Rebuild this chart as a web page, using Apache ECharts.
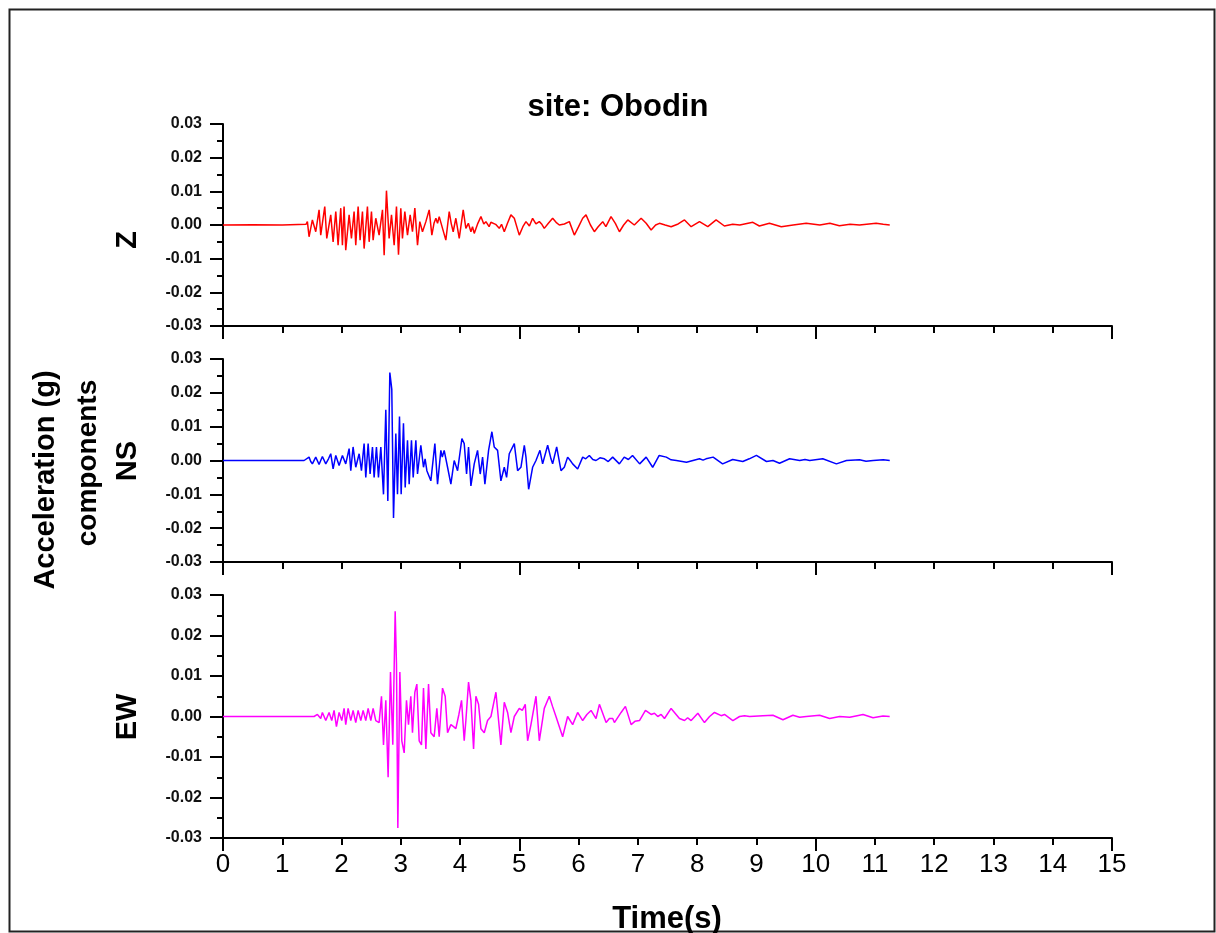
<!DOCTYPE html>
<html><head><meta charset="utf-8">
<script src="https://cdn.jsdelivr.net/npm/echarts@6/dist/echarts.min.js"></script>
<style>html,body{margin:0;padding:0;background:#fff}#c{width:1216px;height:933px}</style>
</head><body><div id="c"></div>
<script>
// ---- data: [time (s), acceleration (g)] ----
const zData = [
[0,0],[0.5,0.0001],[1.0,0],[1.40,0.0002],
[1.424,0.001],[1.452,-0.0035],[1.508,0.0015],[1.565,-0.002],[1.621,0.0045],[1.649,-0.003],[1.717,0.0055],[1.751,-0.004],[1.818,0.003],[1.858,-0.005],[1.903,0.004],[1.942,-0.006],[1.987,0.005],[2.015,-0.006],[2.043,0.0055],[2.071,-0.0075],[2.128,0.003],[2.167,-0.004],[2.212,0.004],[2.240,-0.006],[2.280,0.0055],[2.313,-0.0045],[2.353,0.004],[2.381,-0.007],[2.437,0.0055],[2.466,-0.005],[2.505,0.004],[2.533,-0.0045],[2.578,0.002],[2.634,-0.003],[2.691,0.0045],[2.719,-0.009],[2.758,0.0102],[2.803,-0.004],[2.843,0.003],[2.888,-0.006],[2.927,0.0055],[2.961,-0.0088],[3.000,0.005],[3.028,-0.004],[3.068,0.004],[3.113,-0.003],[3.158,0.003],[3.197,-0.002],[3.237,0.005],[3.282,-0.006],[3.321,0.001],[3.366,-0.002],[3.423,0.001],[3.479,0.0045],[3.524,-0.003],[3.56,0.0005],[3.592,0.002],[3.62,0.0005],[3.648,0.0025],[3.704,-0.001],[3.760,-0.0045],[3.817,0.004],[3.85,0.0005],[3.884,-0.002],[3.929,0.002],[3.986,-0.004],[4.053,0.0045],[4.098,-0.001],[4.14,0.0005],[4.183,-0.002],[4.21,-0.0005],[4.239,-0.0025],[4.30,0.0005],[4.352,0.0025],[4.40,0.0003],[4.436,0.001],[4.49,-0.0005],[4.52,0.0008],[4.549,0.001],[4.60,0.0002],[4.661,-0.001],[4.70,0.0002],[4.746,-0.002],[4.80,0.0005],[4.858,0.003],[4.915,0.002],[4.999,-0.003],[5.06,-0.0005],[5.112,0.001],[5.17,-0.0003],[5.224,0.002],[5.28,0.0003],[5.337,0.001],[5.38,0.0002],[5.421,-0.001],[5.49,0.0005],[5.562,0.002],[5.62,0.0008],[5.675,0],[5.76,0.0003],[5.844,0.001],[5.928,-0.003],[6.00,-0.0005],[6.069,0.002],[6.125,0.003],[6.20,0],[6.266,-0.002],[6.33,-0.0005],[6.407,0.001],[6.46,-0.0005],[6.547,0.0025],[6.62,0.0005],[6.689,-0.002],[6.76,0],[6.83,0.0015],[6.94,0],[7.055,0.002],[7.14,0.0005],[7.224,-0.0015],[7.30,0],[7.364,0.0005],[7.46,0],[7.561,-0.0005],[7.68,0.0003],[7.787,0.0015],[7.899,-0.0005],[8.04,0.001],[8.18,-0.0005],[8.32,0.0015],[8.46,-0.0003],[8.60,0.0002],[8.72,0],[8.94,0.0008],[9.05,-0.0003],[9.22,0.0005],[9.42,-0.0005],[9.62,0],[9.84,0.0005],[10.07,0],[10.24,0.0005],[10.40,-0.0002],[10.58,0.0002],[10.74,0],[10.90,0.0003],[11.02,0.0005],[11.14,0.0002],[11.25,0]
];
const nsData = [
[0,0],[1.368,0],[1.452,0.001],[1.48,-0.0003],[1.508,-0.001],[1.565,0.001],[1.621,-0.0012],[1.677,0.0012],[1.734,-0.001],[1.78,0.0005],[1.818,0.002],[1.858,-0.0025],[1.903,0.0015],[1.959,-0.0015],[2.015,0.0015],[2.071,-0.001],[2.128,0.0035],[2.156,-0.003],[2.195,0.004],[2.240,-0.002],[2.297,0.002],[2.336,-0.003],[2.381,0.005],[2.409,-0.005],[2.449,0.005],[2.482,-0.004],[2.522,0.004],[2.550,-0.005],[2.589,0.004],[2.623,-0.005],[2.663,0.004],[2.708,-0.010],[2.747,0.015],[2.781,-0.012],[2.815,0.026],[2.848,0.021],[2.877,-0.017],[2.916,0.008],[2.944,-0.010],[2.978,0.013],[3.006,-0.010],[3.045,0.011],[3.074,-0.008],[3.113,0.006],[3.141,-0.007],[3.180,0.006],[3.209,-0.005],[3.254,0.006],[3.282,-0.004],[3.338,0.0045],[3.383,-0.002],[3.41,0.0005],[3.440,-0.003],[3.507,-0.006],[3.575,0.005],[3.620,-0.007],[3.676,0.003],[3.70,0.001],[3.732,0.003],[3.789,-0.002],[3.845,-0.007],[3.901,0],[3.958,-0.003],[4.031,0.0065],[4.070,0.005],[4.110,-0.004],[4.143,0.004],[4.183,-0.0075],[4.239,-0.001],[4.295,0.003],[4.340,-0.004],[4.380,0.001],[4.419,-0.007],[4.481,0.003],[4.537,0.0085],[4.576,0.004],[4.633,0.003],[4.689,-0.006],[4.746,-0.002],[4.785,-0.005],[4.830,0.002],[4.915,0.005],[4.971,-0.003],[5.027,-0.002],[5.084,0.0045],[5.112,0.001],[5.157,-0.0085],[5.224,-0.002],[5.281,0],[5.348,0.003],[5.393,-0.001],[5.478,0.0045],[5.534,0.0005],[5.562,-0.001],[5.630,0.004],[5.703,-0.003],[5.759,-0.002],[5.815,0.001],[5.86,0],[5.900,-0.001],[5.984,-0.0025],[6.069,0.001],[6.12,0.0005],[6.181,0.0015],[6.24,0.0003],[6.294,0],[6.36,0.0008],[6.435,0.0005],[6.50,-0.0003],[6.575,0.001],[6.688,-0.001],[6.77,0.001],[6.84,0.0003],[6.91,0.0015],[7.03,-0.001],[7.14,0.001],[7.25,-0.002],[7.36,0.0015],[7.48,0.001],[7.56,0.0002],[7.65,0],[7.82,-0.0005],[7.93,0],[8.04,0.0005],[8.10,0.0001],[8.15,0.0005],[8.27,0.001],[8.43,-0.001],[8.60,0.0003],[8.77,-0.0003],[8.88,0.0005],[9.00,0.0015],[9.17,-0.0003],[9.28,0],[9.39,-0.0008],[9.56,0.0005],[9.73,0],[9.82,0.0003],[9.90,0],[10.12,0.0005],[10.35,-0.001],[10.52,0],[10.74,0.0002],[10.85,-0.0002],[10.97,0],[11.14,0.0002],[11.25,0]
];
const ewData = [
[0,0],[1.537,0],[1.593,0.0005],[1.649,-0.0005],[1.677,0.001],[1.734,-0.001],[1.790,0.001],[1.835,-0.001],[1.874,0.0015],[1.914,-0.0025],[1.959,0.001],[2.004,-0.001],[2.043,0.002],[2.071,-0.002],[2.111,0.002],[2.156,-0.001],[2.195,0.0015],[2.240,-0.0015],[2.280,0.0015],[2.325,-0.001],[2.364,0.0015],[2.409,-0.001],[2.449,0.002],[2.494,-0.001],[2.533,0.002],[2.578,-0.001],[2.634,-0.0015],[2.674,0.005],[2.708,-0.007],[2.747,0.004],[2.786,-0.015],[2.826,0.011],[2.865,-0.007],[2.905,0.026],[2.927,0.013],[2.950,-0.0275],[2.984,0.011],[3.017,-0.006],[3.057,-0.009],[3.096,0.004],[3.130,-0.002],[3.169,0.005],[3.197,-0.004],[3.237,0.006],[3.271,0.008],[3.310,-0.006],[3.349,-0.007],[3.383,0.007],[3.423,-0.008],[3.468,0.008],[3.507,-0.004],[3.563,-0.005],[3.608,0.002],[3.648,-0.005],[3.704,0.007],[3.749,0.005],[3.789,-0.004],[3.845,-0.002],[3.89,-0.0025],[3.929,-0.003],[3.98,0.0005],[4.025,0.004],[4.070,-0.006],[4.098,-0.001],[4.143,0.0085],[4.183,0.004],[4.228,-0.008],[4.267,0.005],[4.312,0.003],[4.352,-0.003],[4.408,-0.004],[4.464,-0.001],[4.521,0],[4.605,0.006],[4.650,-0.001],[4.689,-0.007],[4.746,0.0035],[4.802,0.001],[4.858,-0.004],[4.915,0],[4.999,0.002],[5.05,0.0015],[5.100,0.003],[5.140,-0.006],[5.196,-0.002],[5.281,0.005],[5.337,-0.006],[5.421,0.002],[5.506,0.005],[5.56,0.0025],[5.618,0],[5.731,-0.005],[5.815,0],[5.900,-0.002],[5.984,0.001],[6.069,-0.001],[6.14,0.0005],[6.210,0.0015],[6.294,-0.0005],[6.351,0.003],[6.464,-0.0015],[6.52,-0.0005],[6.576,-0.0005],[6.604,-0.0015],[6.717,0.001],[6.790,0.0025],[6.886,-0.002],[6.95,-0.0012],[7.027,-0.001],[7.128,0.0015],[7.224,0.0005],[7.28,0.0008],[7.336,0],[7.393,0.0005],[7.449,-0.0005],[7.561,0.002],[7.702,-0.0005],[7.787,-0.001],[7.84,-0.0003],[7.899,-0.001],[8.012,0.0008],[8.124,-0.0015],[8.21,0],[8.293,0.001],[8.406,0.0002],[8.462,0.0005],[8.603,-0.001],[8.716,0],[8.80,0.0002],[8.885,0],[9.110,0.0002],[9.279,0.0003],[9.448,-0.0008],[9.616,0.0003],[9.73,-0.0002],[9.842,0],[10.067,0.0003],[10.236,-0.0005],[10.405,0],[10.574,-0.0002],[10.70,0.0002],[10.799,0.0005],[10.968,-0.0003],[11.136,0.0001],[11.249,0]
];
const componentNames = ['Z', 'NS', 'EW'];
const componentColors = ['#ff0000', '#0000ff', '#ff00ff'];
const titleText = 'site: Obodin';
const yLabel1 = 'Acceleration (g)';
const yLabel2 = 'components';
const xLabel = 'Time(s)';
const xMin = 0, xMax = 15;
const yMin = -0.03, yMax = 0.03;

// ---- layout ----
const grids = [
  {left: 223, top: 124, width: 889, height: 202},
  {left: 223, top: 359, width: 889, height: 203},
  {left: 223, top: 595, width: 889, height: 243}
];
const nameY = [240, 461, 717];
const seriesData = [zData, nsData, ewData];
const sans = '"Liberation Sans", Arial, sans-serif';
const narrow = '"Liberation Sans Narrow", "Arial Narrow", "Liberation Sans", sans-serif';

const xAxes = [], yAxes = [], series = [];
grids.forEach((g, i) => {
  const isLast = i === grids.length - 1;
  xAxes.push({
    type: 'value', gridIndex: i, min: xMin, max: xMax, interval: 1, position: 'bottom',
    axisLine: {show: true, onZero: false, lineStyle: {color: '#000', width: 2}},
    axisTick: {show: true, length: 7, lineStyle: {color: '#000', width: 2}},
    axisLabel: {show: isLast, margin: 14, color: '#000', fontFamily: narrow, fontSize: 26},
    splitLine: {show: false}
  });
  xAxes.push({
    type: 'value', gridIndex: i, min: xMin, max: xMax, interval: 5, position: 'bottom',
    axisLine: {show: false, onZero: false},
    axisTick: {show: true, length: 13, lineStyle: {color: '#000', width: 2}},
    axisLabel: {show: false},
    splitLine: {show: false}
  });
  yAxes.push({
    type: 'value', gridIndex: i, min: yMin, max: yMax, interval: 0.01,
    axisLine: {show: true, onZero: false, lineStyle: {color: '#000', width: 2}},
    axisTick: {show: true, length: 13, lineStyle: {color: '#000', width: 2}},
    minorTick: {show: true, splitNumber: 2, length: 6, lineStyle: {color: '#000', width: 2}},
    axisLabel: {margin: 21, color: '#111', fontFamily: sans, fontWeight: 'bold', fontSize: 16,
      formatter: v => v.toFixed(2)},
    splitLine: {show: false}
  });
  series.push({
    type: 'line', xAxisIndex: i * 2, yAxisIndex: i, data: seriesData[i],
    showSymbol: false, symbol: 'none', animation: false,
    lineStyle: {color: componentColors[i], width: 1.5}
  });
});

const graphic = [
  {type: 'rect', shape: {x: 9.5, y: 9.5, width: 1205, height: 922}, style: {fill: 'none', stroke: '#222', lineWidth: 2}},
  {type: 'text', x: 618, y: 107, style: {text: titleText, font: 'bold 31px ' + sans, fill: '#000', textAlign: 'center', textVerticalAlign: 'middle'}},
  {type: 'text', x: 46, y: 480, rotation: Math.PI / 2, style: {text: yLabel1, font: 'bold 29px ' + sans, fill: '#000', textAlign: 'center', textVerticalAlign: 'middle'}},
  {type: 'text', x: 88, y: 463, rotation: Math.PI / 2, style: {text: yLabel2, font: 'bold 28px ' + sans, fill: '#000', textAlign: 'center', textVerticalAlign: 'middle'}},
  {type: 'text', x: 667, y: 919, style: {text: xLabel, font: 'bold 31px ' + narrow, fill: '#000', textAlign: 'center', textVerticalAlign: 'middle'}}
];
componentNames.forEach((n, i) => {
  graphic.push({type: 'text', x: 128, y: nameY[i], rotation: Math.PI / 2,
    style: {text: n, font: 'bold 29px ' + sans, fill: '#000', textAlign: 'center', textVerticalAlign: 'middle'}});
});

const chart = echarts.init(document.getElementById('c'), null, {renderer: 'canvas'});
chart.setOption({
  animation: false,
  backgroundColor: '#fff',
  grid: grids,
  xAxis: xAxes,
  yAxis: yAxes,
  series: series,
  graphic: graphic
});
</script></body></html>
